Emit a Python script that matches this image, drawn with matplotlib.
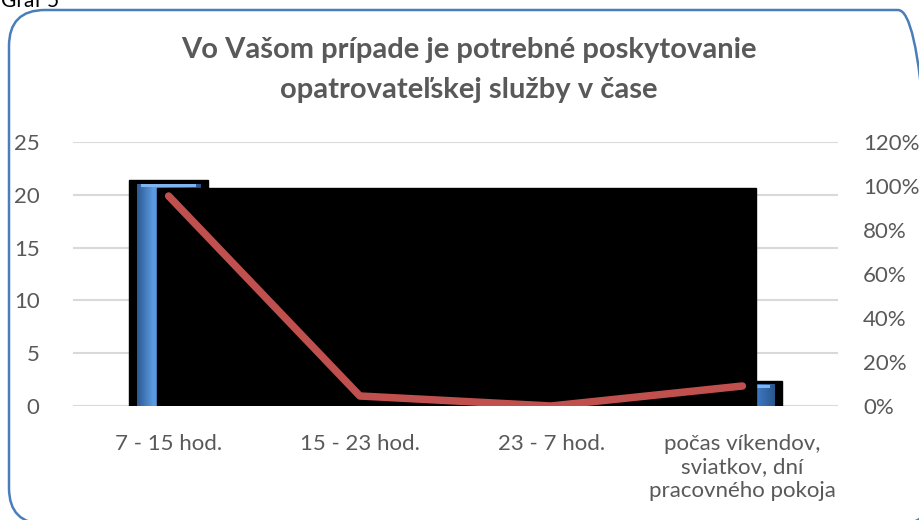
import numpy as np
import matplotlib
matplotlib.use("Agg")
import matplotlib.pyplot as plt
from matplotlib.colors import LinearSegmentedColormap
from matplotlib.patches import Rectangle, FancyBboxPatch
from matplotlib.ticker import PercentFormatter

plt.rcParams['font.family'] = ['Lato', 'DejaVu Sans']

categories = ['7 - 15 hod.', '15 - 23 hod.', '23 - 7 hod.',
              'počas víkendov,\nsviatkov, dní\npracovného pokoja']
counts = [21, 1, 0, 2]
shares = [0.9545, 0.0455, 0.0, 0.0909]

left_ticks = [0, 5, 10, 15, 20, 25]
right_ticks = [0, 0.2, 0.4, 0.6, 0.8, 1.0, 1.2]

grey = '#595959'
grid_c = '#d9d9d9'
line_c = '#c0504d'

fig = plt.figure(figsize=(9.19, 5.2), dpi=100)

# frame layer in pixel units so the corners stay round
frame = fig.add_axes([0, 0, 1, 1])
frame.set_xlim(0, 919)
frame.set_ylim(0, 520)
frame.axis('off')
frame.add_patch(FancyBboxPatch((9, -4), 925, 514,
                               boxstyle='round,pad=0,rounding_size=36',
                               fill=False, ec='#4a7ebb', lw=1.8, clip_on=False))
frame.text(1, 513, 'Graf 5', ha='left', va='baseline', fontsize=15,
           color='black')

ax = fig.add_axes([73/919, 1-406/520, (838-73)/919, (406-142)/520])
ax2 = ax.twinx()

x = np.arange(len(categories))
w = 0.33

# bevelled blue bars with a dark halo
bar_cmap = LinearSegmentedColormap.from_list(
    'bevel', ['#2c5a94', '#5c9ce2', '#4a88d4', '#3b76c0', '#2a568e'])
grad = np.linspace(0, 1, 64).reshape(1, -1)
for i, v in zip(x, counts):
    if v <= 0:
        continue
    ax.add_patch(Rectangle((i - w/2 - 0.042, -0.2), w + 0.084, v + 0.6,
                           color='black', zorder=2))
    ax.imshow(grad, extent=(i - w/2, i + w/2, 0, v), aspect='auto',
              cmap=bar_cmap, zorder=3, interpolation='bicubic')
    ax.add_patch(Rectangle((i - w/2 + 0.02, v - 0.3), w - 0.04, 0.3,
                           color='#7fb4ee', zorder=3.5, lw=0))

# dark backdrop behind the line
ax.add_patch(Rectangle((-0.06, -0.2), 3.13, 20.8, color='black', zorder=4))

ax.set_xlim(-0.5, 3.5)
ax.set_ylim(0, 25)
ax.set_yticks(left_ticks)
ax.yaxis.grid(True, color=grid_c, lw=1.5)
ax.set_axisbelow(True)
ax.set_xticks(x)
ax.set_xticklabels(categories, fontsize=16, color=grey, linespacing=1.22)
ax.tick_params(axis='x', length=0, pad=20)
ax.tick_params(axis='y', length=0, pad=24, labelsize=16, labelcolor=grey)
for s in ax.spines.values():
    s.set_visible(False)

ax2.plot(x, shares, color=line_c, lw=5.4, solid_capstyle='round',
         solid_joinstyle='round', zorder=5)
ax2.set_ylim(0, 1.2)
ax2.set_yticks(right_ticks)
ax2.yaxis.set_major_formatter(PercentFormatter(1.0, decimals=0))
ax2.tick_params(axis='y', length=0, pad=18, labelsize=16, labelcolor=grey)
for s in ax2.spines.values():
    s.set_visible(False)

fig.text(469/919, 1-50/520, 'Vo Vašom prípade je potrebné poskytovanie',
         ha='center', va='center', fontsize=21, fontweight='bold', color=grey)
fig.text(469/919, 1-90/520, 'opatrovateľskej služby v čase',
         ha='center', va='center', fontsize=21, fontweight='bold', color=grey)

fig.savefig('out.png', dpi=100)
